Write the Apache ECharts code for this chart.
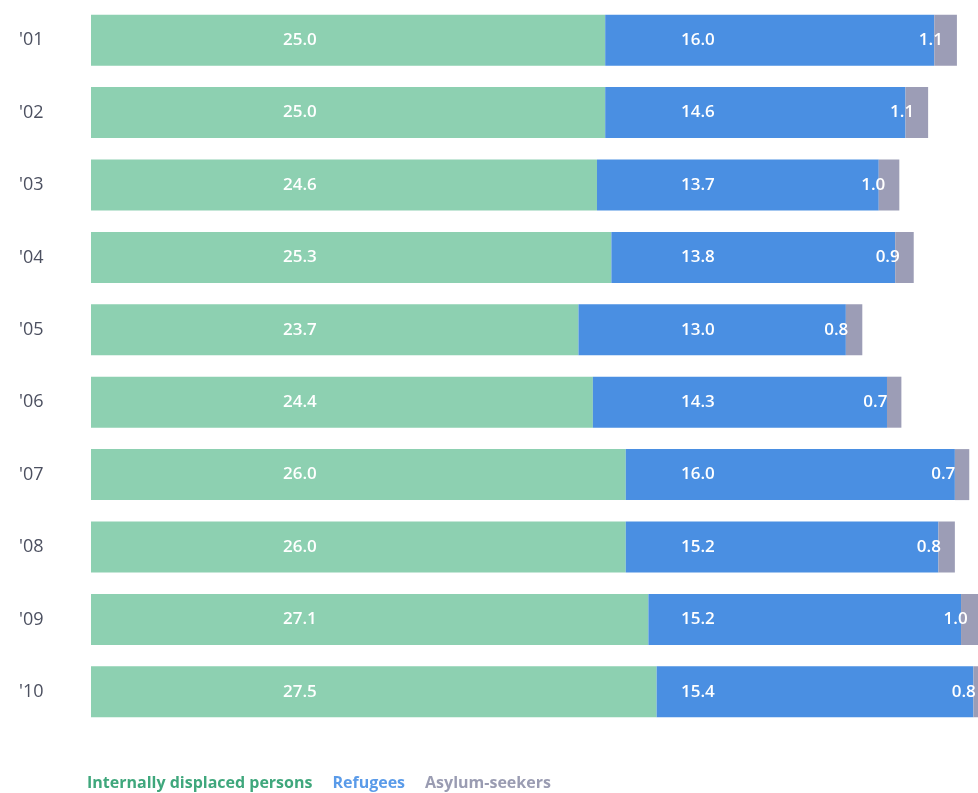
<!DOCTYPE html>
<html><head><meta charset="utf-8">
<script src="https://cdn.jsdelivr.net/npm/echarts@6/dist/echarts.min.js"></script>
<style>html,body{margin:0;padding:0;background:#fff;}#c{width:978px;height:793px;}</style>
</head><body><div id="c"></div>
<script>
const years = ["'01","'02","'03","'04","'05","'06","'07","'08","'09","'10"];
const idps = [25.0, 25.0, 24.6, 25.3, 23.7, 24.4, 26.0, 26.0, 27.1, 27.5];
const refugees = [16.0, 14.6, 13.7, 13.8, 13.0, 14.3, 16.0, 15.2, 15.2, 15.4];
const asylum = [1.1, 1.1, 1.0, 0.9, 0.8, 0.7, 0.7, 0.8, 1.0, 0.8];
const seriesNames = ['Internally displaced persons', 'Refugees', 'Asylum-seekers'];

const cGreen = '#8dd0b1', cBlue = '#4a8fe2', cGrey = '#9c9db6';
const FONT = '"Open Sans", sans-serif';
const chart = echarts.init(document.getElementById('c'), null, {renderer: 'canvas'});
const labelStyle = {show: true, color: '#fff', fontFamily: FONT, fontWeight: 600, fontSize: 17,
  formatter: p => p.value.toFixed(1)};

const option = {
  animation: false,
  backgroundColor: '#ffffff',
  grid: {left: 91, width: 905, top: 4, bottom: 65, containLabel: false, outerBoundsMode: 'none'},
  xAxis: {type: 'value', min: 0, max: 44, show: false},
  yAxis: {type: 'category', data: years, inverse: true,
    axisLine: {show: false}, axisTick: {show: false}, splitLine: {show: false},
    axisLabel: {align: 'left', margin: 72, color: '#4c5060', fontFamily: FONT, fontSize: 18}},
  legend: {
    left: 77, top: 770, icon: 'none', itemWidth: 0, itemGap: 15,
    selectedMode: false,
    data: [
      {name: seriesNames[0], textStyle: {color: '#3fa77c'}},
      {name: seriesNames[1], textStyle: {color: '#5a9be9'}},
      {name: seriesNames[2], textStyle: {color: '#9a9cb2'}}
    ],
    textStyle: {fontFamily: FONT, fontWeight: 700, fontSize: 16}
  },
  series: [
    {name: seriesNames[0], type: 'bar', stack: 't', data: idps, barWidth: 51,
      itemStyle: {color: cGreen}, label: Object.assign({}, labelStyle, {position: [192, '50%'], verticalAlign: 'middle'})},
    {name: seriesNames[1], type: 'bar', stack: 't', data: refugees,
      itemStyle: {color: cBlue}, label: Object.assign({}, labelStyle, {position: 'insideLeft'})},
    {name: seriesNames[2], type: 'bar', stack: 't', data: asylum,
      itemStyle: {color: cGrey}, label: Object.assign({}, labelStyle, {position: 'insideRight', distance: 14})}
  ]
};
chart.setOption(option);

// Blue labels start at a common x position
const blueLabelX = 681;
const blueData = refugees.map((v, i) => {
  const start = chart.convertToPixel({gridIndex: 0}, [idps[i], 0])[0];
  return {value: v, label: {position: [blueLabelX - start, '50%'], verticalAlign: 'middle'}};
});
chart.setOption({series: [{}, {data: blueData}, {}]});
</script></body></html>
